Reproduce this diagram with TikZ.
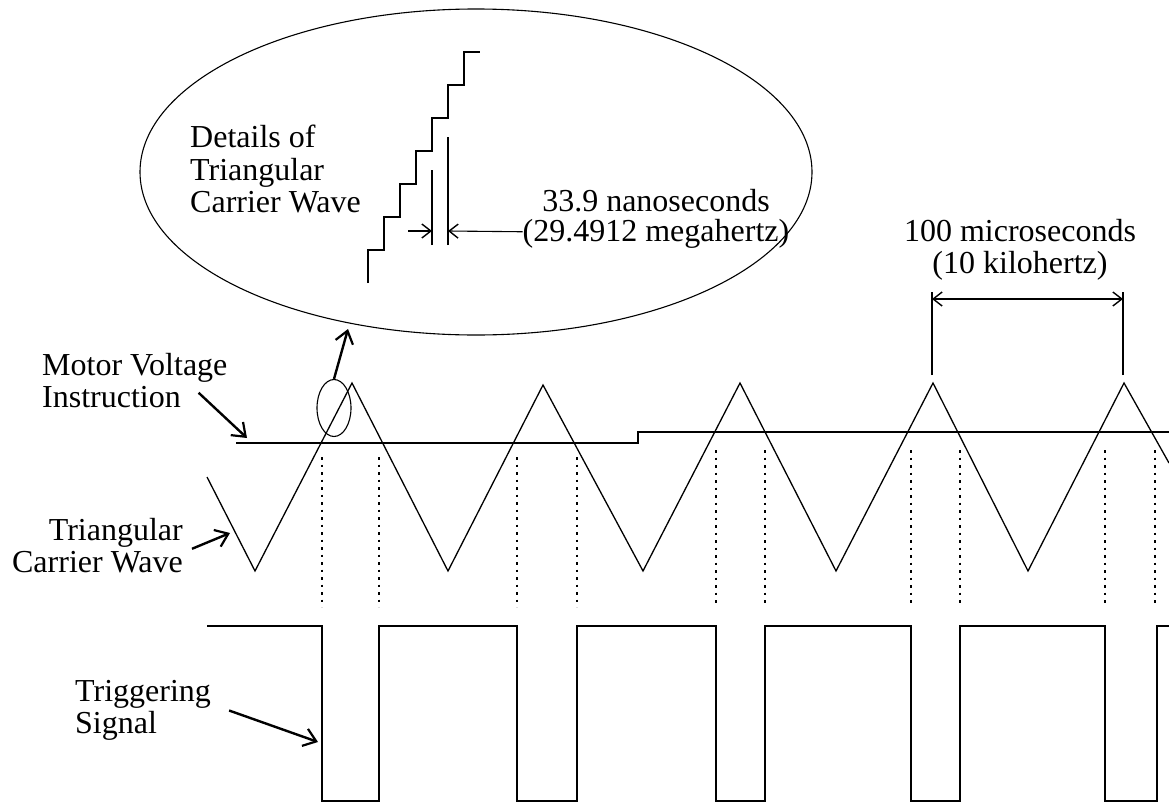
\documentclass[tikz,border=0pt]{standalone}
\usepackage{fontspec}
\setmainfont{Liberation Serif}
\usetikzlibrary{arrows.meta,positioning,shapes.geometric}

\tikzset{
    lbl/.style={inner sep=0pt, font=\fontsize{32}{32.5}\selectfont},
    trace/.style={line width=1.3pt, line join=miter},
    thin line/.style={line width=1.1pt},
    cut/.style={line width=1.5pt, dash pattern=on 2.5pt off 5pt},
    pointer/.style={line width=2.4pt, -{Straight Barb[length=12pt,width=18pt,line width=2.2pt]}},
    barb/.tip={Straight Barb[length=9pt,width=14pt,line width=1.4pt]},
    dimarrow/.style={line width=1.1pt, -barb},
    dimboth/.style={line width=1.1pt, barb-barb},
}

\begin{document}
\begin{tikzpicture}[x=1pt, y=-1pt]
    \useasboundingbox (0,0) rectangle (1169,803);

    % enlarged view of the carrier steps
    \node[draw, thin line, ellipse, inner sep=0pt, minimum width=672pt, minimum height=326pt] (bigoval) at (476,172) {};
    \node[lbl, anchor=north west, align=left] (details) at (190,125) {Details of\\Triangular\\Carrier Wave};
    \draw[thin line] (368,283) -- (368,250)
        \foreach \k in {1,...,6} { -- ++(16,0) -- ++(0,-33) } -- ++(16,0);
    \coordinate (stepa) at (432,245);
    \coordinate (stepb) at (448,245);
    \draw[thin line] (stepa) -- (432,170);
    \draw[thin line] (stepb) -- (448,137);
    \node[lbl, anchor=north, align=center, font=\fontsize{32}{30}\selectfont] (nano) at (656,189) {33.9 nanoseconds\\(29.4912 megahertz)};
    \draw[dimarrow] (408,231) -- (432,231);
    \draw[dimarrow] ([yshift=-13pt]nano.west) -- (448,231);

    % period of the carrier
    \node[lbl, anchor=north, align=center] (period) at (1020,219) {100 microseconds\\(10 kilohertz)};
    \coordinate (pka) at (932,375);
    \coordinate (pkb) at (1123,375);
    \draw[thin line] (pka) -- (932,292);
    \draw[thin line] (pkb) -- (1123,292);
    \draw[dimboth] (932,299) -- (1123,299);

    % waves
    \draw[trace] (207,477) -- (255,571) -- (352,383) -- (448,571) -- (543,385) -- (643,571)
        -- (740,383) -- (836,571) -- (933,383) -- (1028,571) -- (1124,383) -- (1169,463);
    \draw[trace] (236,443) -- (638,443) -- (638,432) -- (1169,432);
    \foreach \x in {322,379,517,577}
        \draw[cut] (\x,457) -- (\x,607);
    \foreach \x in {716,765,911,960,1105,1155}
        \draw[cut] (\x,450) -- (\x,607);
    \draw[trace] (207,626)
        \foreach \a/\b in {322/379,517/577,716/765,911/960,1105/1157}
            { -- (\a,626) -- (\a,801) -- (\b,801) -- (\b,626) } -- (1169,626);

    % zoom marker
    \node[draw, thin line, ellipse, inner sep=0pt, minimum width=34pt, minimum height=57pt] (spot) at (334,408) {};
    \coordinate (ovaltip) at (348,329);
    \draw[pointer] (spot.north) -- (ovaltip);

    % labels
    \node[lbl, anchor=north west, align=left] (mvi) at (42,353) {Motor Voltage\\Instruction};
    \coordinate (mvitip) at (247,438);
    \draw[pointer] ([xshift=-29pt,yshift=-12pt]mvi.east) -- (mvitip);

    \node[lbl, anchor=north east, align=right] (tcw) at (183,518) {Triangular\\Carrier Wave};
    \coordinate (tcwtip) at (230,533);
    \draw[pointer] ([xshift=9pt,yshift=-3pt]tcw.east) -- (tcwtip);

    \node[lbl, anchor=north west, align=left] (trg) at (75,680) {Triggering\\Signal};
    \coordinate (trgtip) at (318,742);
    \draw[pointer] ([xshift=18pt]trg.east) -- (trgtip);
\end{tikzpicture}
\end{document}
